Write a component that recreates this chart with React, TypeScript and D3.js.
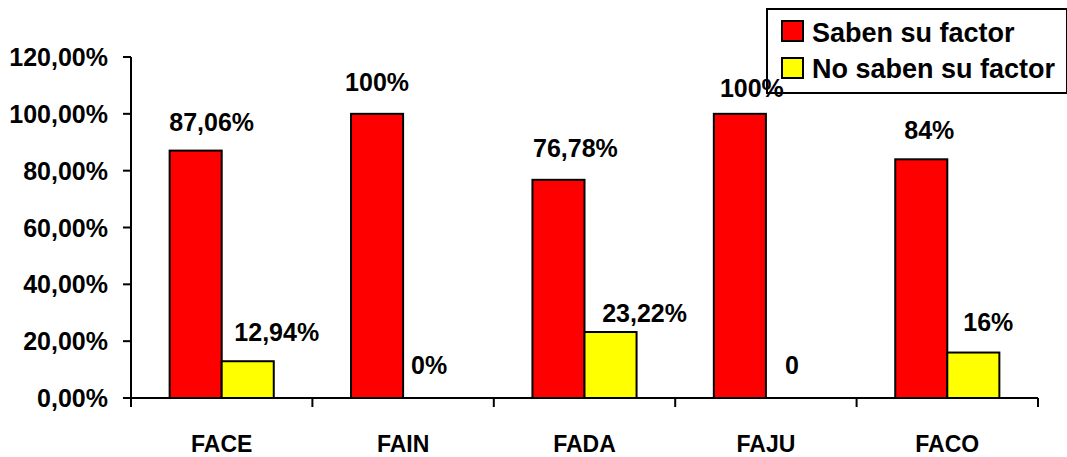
import React from "react";
import * as d3 from "d3";

const categories = ["FACE", "FAIN", "FADA", "FAJU", "FACO"];
const seriesNames = ["Saben su factor", "No saben su factor"];
const sabenValues = [87.06, 100, 76.78, 100, 84];
const noSabenValues = [12.94, 0, 23.22, 0, 16];
const sabenLabels = ["87,06%", "100%", "76,78%", "100%", "84%"];
const noSabenLabels = ["12,94%", "0%", "23,22%", "0", "16%"];
const yTicks = [0, 20, 40, 60, 80, 100, 120];
const yTickLabels = ["0,00%", "20,00%", "40,00%", "60,00%", "80,00%", "100,00%", "120,00%"];

// manual label nudges (as placed in the original chart)
const sabenNudgeX = [16, 0, 17, 12, 8];
const sabenNudgeY = [-20, -23, -23, -17, -20];
const noSabenNudgeX = [29, 0, 34, 0, 15];
const noSabenNudgeY = [-20, -24, -10, -24, -22];

const colors = ["#FF0000", "#FFFF00"];
const FONT = "'Liberation Sans', Arial, sans-serif";

export default function App() {
  const W = 1067, H = 457;
  const left = 131, right = 1038, top = 57, bottom = 398;
  const x = d3.scaleBand<string>().domain(categories).range([left, right]).paddingInner(0).paddingOuter(0);
  const y = d3.scaleLinear().domain([0, 120]).range([bottom, top]);
  const bw = x.bandwidth();
  const barW = bw * 0.287;
  const x1 = d3.scaleBand<string>().domain(seriesNames).range([bw / 2 - barW, bw / 2 + barW]);

  const series = [
    { name: seriesNames[0], values: sabenValues, labels: sabenLabels, nx: sabenNudgeX, ny: sabenNudgeY, color: colors[0] },
    { name: seriesNames[1], values: noSabenValues, labels: noSabenLabels, nx: noSabenNudgeX, ny: noSabenNudgeY, color: colors[1] },
  ];

  const boundaries = categories.map((c) => x(c)!).concat([right]);

  return (
    <svg width={W} height={H} style={{ position: "absolute", left: 0, top: 0, background: "#fff" }} fontFamily={FONT}>
      <rect x={0} y={0} width={W} height={H} fill="#fff" />
      {/* bars */}
      {series.map((s) =>
        categories.map((c, i) =>
          s.values[i] > 0 ? (
            <rect
              key={s.name + c}
              x={x(c)! + x1(s.name)!}
              y={y(s.values[i])}
              width={x1.bandwidth()}
              height={y(0) - y(s.values[i])}
              fill={s.color}
              stroke="#000"
              strokeWidth={2}
            />
          ) : null
        )
      )}
      {/* y axis */}
      <line x1={left} x2={left} y1={top} y2={bottom} stroke="#000" strokeWidth={2} />
      {yTicks.map((t, i) => (
        <g key={t}>
          <line x1={left - 8} x2={left} y1={y(t)} y2={y(t)} stroke="#000" strokeWidth={2} />
          <text x={108} y={y(t)} dy="0.36em" textAnchor="end" fontSize={25} fontWeight="bold" fill="#000">
            {yTickLabels[i]}
          </text>
        </g>
      ))}
      {/* x axis */}
      <line x1={left - 8} x2={right} y1={bottom} y2={bottom} stroke="#000" strokeWidth={2} />
      {boundaries.map((b, i) => (
        <line key={i} x1={b} x2={b} y1={bottom} y2={bottom + 9} stroke="#000" strokeWidth={2} />
      ))}
      {categories.map((c) => (
        <text key={c} x={x(c)! + bw / 2} y={452} textAnchor="middle" fontSize={23} fontWeight="bold" fill="#000">
          {c}
        </text>
      ))}
      {/* legend */}
      <rect x={767} y={9} width={300} height={84} fill="none" stroke="#000" strokeWidth={2} />
      {series.map((s, i) => (
        <g key={s.name}>
          <rect x={782} y={21 + i * 37} width={21} height={20} fill={s.color} stroke="#000" strokeWidth={2} />
          <text x={812} y={42 + i * 36} fontSize={27} fontWeight="bold" fill="#000">
            {s.name}
          </text>
        </g>
      ))}
      {/* data labels */}
      {series.map((s) =>
        categories.map((c, i) => (
          <text
            key={"l" + s.name + c}
            x={x(c)! + x1(s.name)! + x1.bandwidth() / 2 + s.nx[i]}
            y={y(s.values[i]) + s.ny[i]}
            textAnchor="middle"
            fontSize={25}
            fontWeight="bold"
            fill="#000"
          >
            {s.labels[i]}
          </text>
        ))
      )}
    </svg>
  );
}
